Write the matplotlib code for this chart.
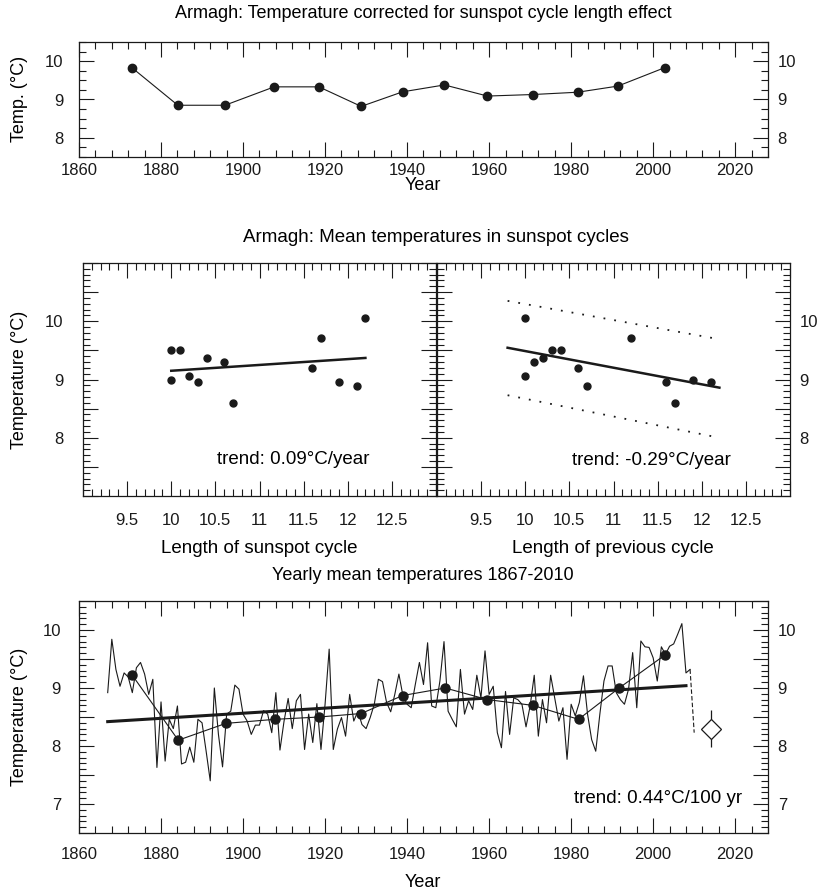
import matplotlib
matplotlib.use("Agg")
import matplotlib.pyplot as plt
from matplotlib.ticker import MultipleLocator, FuncFormatter

plt.rcParams["font.family"] = ["Liberation Sans", "DejaVu Sans"]
plt.rcParams["font.size"] = 12

# --- top panel: corrected temperature per sunspot cycle ---
top_years = [1872.9, 1884.1, 1895.6, 1907.6, 1918.5, 1928.8, 1938.9,
             1949.1, 1959.6, 1970.7, 1981.6, 1991.4, 2002.8]
top_temp = [9.83, 8.85, 8.85, 9.33, 9.33, 8.82, 9.20,
            9.38, 9.09, 9.13, 9.19, 9.35, 9.83]

# --- middle panels: cycle mean temperature vs cycle length ---
len_cycle = [10.0, 10.1, 10.0, 10.2, 10.3, 10.4, 10.6, 10.7, 11.6, 11.7, 11.9, 12.1, 12.2]
temp_cycle = [9.50, 9.50, 9.00, 9.06, 8.96, 9.37, 9.30, 8.60, 9.20, 9.71, 8.96, 8.89, 10.06]
trend_cycle_x = [10.0, 12.2]
trend_cycle_y = [9.15, 9.37]

len_prev = [10.0, 10.0, 10.1, 10.2, 10.3, 10.4, 10.6, 10.7, 11.2, 11.6, 11.7, 11.9, 12.1]
temp_prev = [10.06, 9.06, 9.30, 9.37, 9.50, 9.50, 9.20, 8.89, 9.71, 8.96, 8.60, 9.00, 8.96]
trend_prev_x = [9.8, 12.2]
trend_prev_y = [9.545, 8.86]
upper_x = [9.8, 12.13]
upper_y = [10.35, 9.71]
lower_x = [9.8, 12.2]
lower_y = [8.73, 8.0]

# --- bottom panel: yearly means 1867-2010 ---
years = list(range(1867, 2011))
yearly = [
    8.92, 9.84, 9.32, 9.03, 9.26, 9.19, 8.92, 9.35, 9.44, 9.24,   # 1867-1876
    8.89, 9.15, 7.63, 8.76, 7.74, 8.46, 8.30, 8.69, 7.69, 7.72,   # 1877-1886
    7.98, 7.72, 8.46, 8.40, 7.91, 7.40, 9.00, 8.20, 7.64, 8.55,   # 1887-1896
    8.60, 9.05, 8.98, 8.55, 8.43, 8.20, 8.36, 8.36, 8.61, 8.55,   # 1897-1906
    8.23, 8.92, 7.93, 8.43, 8.82, 8.30, 8.78, 8.89, 7.94, 8.55,   # 1907-1916
    8.06, 8.73, 7.94, 8.72, 9.67, 7.94, 8.29, 8.49, 8.17, 8.89,   # 1917-1926
    8.43, 8.60, 8.37, 8.30, 8.49, 8.72, 9.15, 9.11, 8.75, 8.59,   # 1927-1936
    8.89, 9.24, 8.86, 8.72, 8.66, 9.06, 9.44, 9.06, 9.78, 8.69,   # 1937-1946
    8.66, 9.12, 9.80, 8.60, 8.46, 8.33, 9.32, 8.55, 8.78, 8.63,   # 1947-1956
    9.22, 8.83, 9.64, 8.89, 9.03, 8.23, 7.97, 8.94, 8.20, 8.83,   # 1957-1966
    8.80, 8.72, 8.33, 8.69, 9.22, 8.17, 8.80, 8.40, 9.22, 8.83,   # 1967-1976
    8.43, 8.66, 7.77, 8.72, 8.52, 8.75, 9.21, 8.55, 8.11, 7.91,   # 1977-1986
    8.55, 9.12, 9.38, 9.38, 8.92, 8.80, 8.72, 8.98, 9.61, 8.66,   # 1987-1996
    9.81, 9.71, 9.70, 9.52, 9.12, 9.71, 9.58, 9.72, 9.76, 9.93,   # 1997-2006
    10.11, 9.26, 9.32, 8.23,                                      # 2007-2010
]
cyc_years = [1873.0, 1884.2, 1895.8, 1907.8, 1918.6, 1928.8, 1938.9,
             1949.3, 1959.6, 1970.7, 1981.8, 1991.7, 2002.9]
cyc_temp = [9.22, 8.10, 8.39, 8.46, 8.50, 8.56, 8.87,
            9.00, 8.80, 8.70, 8.46, 9.00, 9.57]
trend_year_x = [1867, 2008]
trend_year_y = [8.42, 9.04]
pred_year = 2014.1
pred_temp = 8.30
pred_err = 0.32

INK = "#1a1a1a"
W, H = 821, 896
fig = plt.figure(figsize=(W / 100, H / 100), dpi=100)


def box(l, t, r, b):
    return [l / W, 1 - b / H, (r - l) / W, (b - t) / H]


def int_labels(lo, hi):
    return FuncFormatter(
        lambda v, p: f"{v:.0f}" if abs(v - round(v)) < 1e-6 and lo <= v <= hi else "")


def style(ax, xmaj, xmin, ymaj, ymin, yfmt, left=True, right=True,
          xpad=4, lpad=13, rpad=7):
    # right-hand labels live on a twin so they can sit closer to the frame
    if right:
        axr = ax.twinx()
        axr.set_ylim(ax.get_ylim())
        axr.yaxis.set_major_locator(MultipleLocator(ymaj))
        axr.yaxis.set_major_formatter(yfmt)
        axr.tick_params(axis="y", which="both", length=0, pad=rpad, colors=INK)
        for s in axr.spines.values():
            s.set_visible(False)
    ax.xaxis.set_major_locator(MultipleLocator(xmaj))
    ax.xaxis.set_minor_locator(MultipleLocator(xmin))
    ax.yaxis.set_major_locator(MultipleLocator(ymaj))
    ax.yaxis.set_minor_locator(MultipleLocator(ymin))
    ax.yaxis.set_major_formatter(yfmt)
    ax.tick_params(which="both", direction="in", top=True, right=True, left=True,
                   labelleft=left, labelright=False, width=0.8, colors=INK)
    ax.tick_params(which="major", length=11)
    ax.tick_params(which="minor", length=5)
    ax.tick_params(axis="x", which="major", pad=xpad)
    ax.tick_params(axis="y", which="major", pad=lpad)
    for s in ax.spines.values():
        s.set_linewidth(0.9)
        s.set_color(INK)


# top panel
ax1 = fig.add_axes(box(79, 42, 768, 157))
ax1.plot(top_years, top_temp, color=INK, lw=0.8, marker="o", ms=6)
ax1.set_xlim(1860, 2028)
ax1.set_ylim(7.5, 10.5)
style(ax1, 20, 4, 1, 0.25, int_labels(8, 10), xpad=4, lpad=11)
fig.text(423 / W, 1 - 13 / H, "Armagh: Temperature corrected for sunspot cycle length effect",
         ha="center", va="center", fontsize=13)
fig.text(423 / W, 1 - 186 / H, "Year", ha="center", va="center", fontsize=13)
fig.text(20 / W, 1 - 99 / H, "Temp. (°C)", ha="center", va="center", rotation=90, fontsize=13)

# middle panels
mid_fmt = FuncFormatter(lambda v, p: "" if v < 9.25 or v > 12.75 else f"{v:g}")

ax2 = fig.add_axes(box(83, 263, 436, 496))
ax2.plot(len_cycle, temp_cycle, "o", color=INK, ms=5)
ax2.plot(trend_cycle_x, trend_cycle_y, color=INK, lw=1.8)
ax2.set_xlim(9.0, 13.0)
ax2.set_ylim(7.0, 11.0)
style(ax2, 0.5, 0.1, 0.5, 0.1, int_labels(8, 10), left=True, right=False, xpad=12, lpad=14)
ax2.xaxis.set_major_formatter(mid_fmt)
ax2.text(0.813, 0.155, "trend: 0.09°C/year", transform=ax2.transAxes,
         ha="right", va="center", fontsize=13.5)

ax3 = fig.add_axes(box(437, 263, 790, 496))
ax3.plot(len_prev, temp_prev, "o", color=INK, ms=5)
ax3.plot(trend_prev_x, trend_prev_y, color=INK, lw=1.8)
ax3.plot(upper_x, upper_y, color=INK, lw=1.3, ls=(0, (1, 5)))
ax3.plot(lower_x, lower_y, color=INK, lw=1.3, ls=(0, (1, 5)))
ax3.set_xlim(9.0, 13.0)
ax3.set_ylim(7.0, 11.0)
style(ax3, 0.5, 0.1, 0.5, 0.1, int_labels(8, 10), left=False, right=True, xpad=12, rpad=7)
ax3.xaxis.set_major_formatter(mid_fmt)
ax3.text(0.832, 0.152, "trend: -0.29°C/year", transform=ax3.transAxes,
         ha="right", va="center", fontsize=13.5)

fig.text(436 / W, 1 - 238 / H, "Armagh: Mean temperatures in sunspot cycles",
         ha="center", va="center", fontsize=13.5)
fig.text(259 / W, 1 - 548 / H, "Length of sunspot cycle", ha="center", va="center", fontsize=13.5)
fig.text(613 / W, 1 - 548 / H, "Length of previous cycle", ha="center", va="center", fontsize=13.5)
fig.text(20 / W, 1 - 380 / H, "Temperature (°C)", ha="center", va="center",
         rotation=90, fontsize=13)

# bottom panel
ax4 = fig.add_axes(box(79, 601, 768, 833))
ax4.plot(years[:-1], yearly[:-1], color=INK, lw=0.8)
ax4.plot(years[-2:], yearly[-2:], color=INK, lw=0.8, ls=(0, (4, 2)))
ax4.plot(cyc_years, cyc_temp, color=INK, lw=0.8, marker="o", ms=6.5)
ax4.plot(trend_year_x, trend_year_y, color=INK, lw=2.2)
ax4.errorbar([pred_year], [pred_temp], yerr=[pred_err], fmt="D", ms=10,
             mfc="white", mec=INK, mew=0.9, ecolor=INK, elinewidth=0.9, capsize=0)
ax4.set_xlim(1860, 2028)
ax4.set_ylim(6.5, 10.5)
style(ax4, 20, 4, 0.5, 0.1, int_labels(7, 10), xpad=10, lpad=13)
ax4.text(0.962, 0.15, "trend: 0.44°C/100 yr", transform=ax4.transAxes,
         ha="right", va="center", fontsize=13.5)
fig.text(423 / W, 1 - 575 / H, "Yearly mean temperatures 1867-2010", ha="center", va="center",
         fontsize=13)
fig.text(423 / W, 1 - 882 / H, "Year", ha="center", va="center", fontsize=13)
fig.text(20 / W, 1 - 717 / H, "Temperature (°C)", ha="center", va="center",
         rotation=90, fontsize=13)

fig.savefig("out.png", dpi=100)
